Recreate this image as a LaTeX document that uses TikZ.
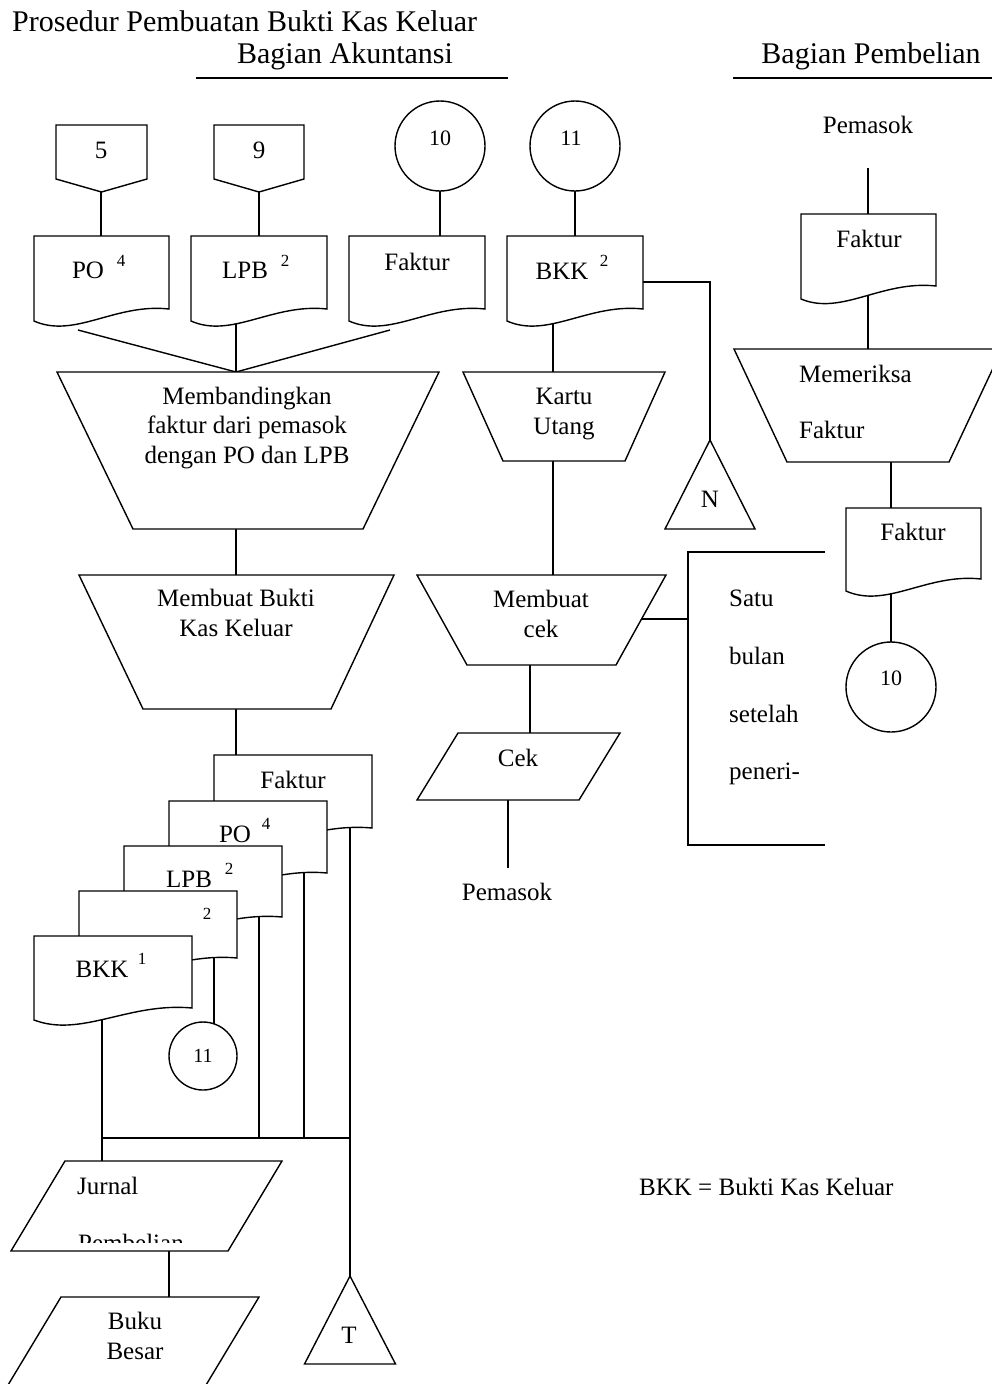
\documentclass[tikz,border=0pt]{standalone}
\usepackage{fontspec}
\setmainfont{Liberation Serif}
\tikzset{
  shp/.style={draw=black, fill=white, line width=1.4pt, line join=miter},
  ln/.style={draw=black, line width=1.4pt},
  tx/.style={inner sep=0pt, anchor=base, font=\fontsize{25}{30}\selectfont},
  txl/.style={tx, anchor=base west},
  hd/.style={inner sep=0pt, anchor=base, font=\fontsize{30}{36}\selectfont},
  sml/.style={inner sep=0pt, anchor=base, font=\fontsize{17}{20}\selectfont},
  num/.style={inner sep=0pt, anchor=base, font=\fontsize{22}{26}\selectfont},
  crc/.style={shp, circle, inner sep=0pt, minimum size=#1},
}
% document shape: x y w h offset
\newcommand{\docshape}[5]{%
  \draw[shp] (#1,#2) -- ({#1+#3},#2) -- ({#1+#3},{#2+#4})
    .. controls ({#1+0.6*#3},{#2+#4-6}) and ({#1+0.3*#3},{#2+#4+30}) ..
    (#1,{#2+#4+#5}) -- cycle;}
% trapezoid / parallelogram: topY botY tl tr bl br
\newcommand{\quadshape}[6]{%
  \draw[shp] (#3,#1) -- (#4,#1) -- (#6,#2) -- (#5,#2) -- cycle;}
% off-page connector: left right top sidebottom tip
\newcommand{\offpage}[5]{%
  \draw[shp] (#1,#3) -- (#2,#3) -- (#2,#4) -- ({(#1+#2)/2},#5) -- (#1,#4) -- cycle;}
% triangle: apexx apexy basey halfwidth
\newcommand{\tri}[4]{%
  \draw[shp] (#1,#2) -- ({#1+#4},#3) -- ({#1-#4},#3) -- cycle;}
\begin{document}
\begin{tikzpicture}[x=1pt,y=-1pt]
\useasboundingbox[fill=white] (0,0) rectangle (992,1384);

% ---------- headers ----------
\node[hd, anchor=base west] (title) at (12,31) {Prosedur Pembuatan Bukti Kas Keluar};
\node[hd] (hAk) at (345,63) {Bagian Akuntansi};
\node[hd] (hPb) at (871,63) {Bagian Pembelian};
\coordinate (ulA1) at (196,78); \coordinate (ulA2) at (508,78);
\coordinate (ulP1) at (733,78); \coordinate (ulP2) at (992,78);
\draw[ln] (ulA1) -- (ulA2);
\draw[ln] (ulP1) -- (ulP2);

% ---------- coordinates ----------
\coordinate (p5) at (101,185);   \coordinate (poT) at (101,250);
\coordinate (p9) at (259,185);   \coordinate (lpbT) at (259,250);
\coordinate (c10) at (440,146);  \coordinate (fkT) at (440,250);
\coordinate (c11) at (575,146);  \coordinate (bkkT) at (575,250);
\coordinate (poB) at (78,330);   \coordinate (lpbB) at (236,320);
\coordinate (fkB) at (390,330);  \coordinate (mbT) at (236,372);
\coordinate (mbB) at (236,520);  \coordinate (mkT) at (236,590);
\coordinate (mkB) at (236,700);  \coordinate (sfT) at (236,770);
\coordinate (bkkB) at (553,320); \coordinate (kuT) at (553,380);
\coordinate (bkkR) at (600,282); \coordinate (nCor) at (710,282);
\coordinate (nA) at (710,450);
\coordinate (kuB) at (553,455);  \coordinate (ckT) at (553,590);
\coordinate (ckM) at (541,619);  \coordinate (boxL) at (688,619);
\coordinate (ckB) at (530,655);  \coordinate (cpT) at (530,745);
\coordinate (cpB) at (508,790);  \coordinate (pemB) at (508,868);
\coordinate (pemR) at (868,168); \coordinate (rf1T) at (868,230);
\coordinate (rf1B) at (868,290); \coordinate (mrT) at (868,360);
\coordinate (mrB) at (891,455);  \coordinate (rf2T) at (891,520);
\coordinate (rf2B) at (891,585); \coordinate (c10b) at (891,687);
% stacked
\coordinate (sfB) at (350,790);  \coordinate (spB) at (304,830);
\coordinate (slB) at (259,880);  \coordinate (sxB) at (214,930);
\coordinate (sbB) at (102,1000);
\coordinate (c11b) at (203,1056); \coordinate (c11e) at (214,1045);
\coordinate (h1) at (102,1138);  \coordinate (h2) at (259,1138);
\coordinate (h3) at (304,1138);  \coordinate (h4) at (350,1138);
\coordinate (jT) at (102,1170);  \coordinate (tA) at (350,1285);
\coordinate (jB) at (169,1245);  \coordinate (bbT) at (169,1305);

% ---------- connectors (drawn behind shapes) ----------
\draw[ln] (p5) -- (poT);
\draw[ln] (p9) -- (lpbT);
\draw[ln] (c10) -- (fkT);
\draw[ln] (c11) -- (bkkT);
\draw[ln] (poB) -- (mbT);
\draw[ln] (lpbB) -- (mbT);
\draw[ln] (fkB) -- (mbT);
\draw[ln] (mbB) -- (mkT);
\draw[ln] (mkB) -- (sfT);
\draw[ln] (bkkB) -- (kuT);
\draw[ln] (bkkR) -- (nCor) -- (nA);
\draw[ln] (kuB) -- (ckT);
\draw[ln] (ckM) -- (boxL);
\draw[ln] (ckB) -- (cpT);
\draw[ln] (cpB) -- (pemB);
\draw[ln] (pemR) -- (rf1T);
\draw[ln] (rf1B) -- (mrT);
\draw[ln] (mrB) -- (rf2T);
\draw[ln] (rf2B) -- (c10b);
\draw[ln] (sfB) -- (h4) -- (tA);
\draw[ln] (spB) -- (h3);
\draw[ln] (slB) -- (h2);
\draw[ln] (sxB) -- (c11e);
\draw[ln] (sbB) -- (h1) -- (jT);
\draw[ln] (h1) -- (h4);
\draw[ln] (jB) -- (bbT);

% ---------- top row ----------
\offpage{56}{147}{125}{179}{192}
\node[tx] (t5) at (101,158) {5};
\offpage{214}{304}{125}{179}{192}
\node[tx] (t9) at (259,158) {9};
\node[crc=90pt] (C10) at (c10) {};
\node[num] (t10) at (440,145) {10};
\node[crc=90pt] (C11) at (c11) {};
\node[num] (t11) at (571,145) {11};

\docshape{34}{236}{135}{73}{12}
\node[tx] (tPO) at (88,278) {PO};
\node[sml] (tPO4) at (121,266) {4};
\docshape{191}{236}{136}{73}{12}
\node[tx] (tLPB) at (245,278) {LPB};
\node[sml] (tLPB2) at (285,266) {2};
\docshape{349}{236}{136}{73}{12}
\node[tx] (tFk) at (417,270) {Faktur};
\docshape{507}{236}{136}{73}{12}
\node[tx] (tBKK) at (562,279) {BKK};
\node[sml] (tBKK2) at (604,266) {2};

% ---------- process shapes ----------
\quadshape{372}{529}{57}{439}{133}{363}
\node[tx, align=center, font=\fontsize{25}{29.5}\selectfont] (tMb) at (247,463)
  {Membandingkan\\faktur dari pemasok\\dengan PO dan LPB};
\quadshape{575}{709}{79}{394}{143}{331}
\node[tx, align=center, font=\fontsize{25}{29.5}\selectfont] (tMk) at (236,636)
  {Membuat Bukti\\Kas Keluar};

\quadshape{372}{461}{463}{665}{503}{625}
\node[tx, align=center, font=\fontsize{25}{30}\selectfont] (tKu) at (564,434)
  {Kartu\\Utang};
\tri{710}{440}{529}{45}
\node[tx] (tN) at (710,507) {N};

\quadshape{575}{665}{417}{666}{467}{616}
\node[tx, align=center, font=\fontsize{25}{30}\selectfont] (tMc) at (541,637)
  {Membuat\\cek};
\quadshape{733}{800}{458}{620}{417}{579}
\node[tx] (tCek) at (518,766) {Cek};
\node[tx] (tPem2) at (507,900) {Pemasok};

% Satu bulan box
\coordinate (bx1) at (825,552); \coordinate (bx2) at (688,552);
\coordinate (bx3) at (688,845); \coordinate (bx4) at (825,845);
\draw[ln] (bx1) -- (bx2) -- (bx3) -- (bx4);
\node[txl] (tSatu) at (729,606) {Satu};
\node[txl] (tBulan) at (729,664) {bulan};
\node[txl] (tSetelah) at (729,722) {setelah};
\node[txl] (tPeneri) at (729,779) {peneri-};

% ---------- right column ----------
\node[tx] (tPem1) at (868,133) {Pemasok};
\docshape{801}{214}{135}{72}{13}
\node[tx] (tRf1) at (869,247) {Faktur};
\quadshape{349}{462}{734}{1002}{787}{949}
\node[txl] (tMr1) at (799,382) {Memeriksa};
\node[txl] (tMr2) at (799,438) {Faktur};
\docshape{846}{508}{135}{71}{12}
\node[tx] (tRf2) at (913,540) {Faktur};
\node[crc=90pt] (C10b) at (c10b) {};
\node[num] (t10b) at (891,685) {10};

% ---------- stacked documents ----------
\docshape{214}{755}{158}{73}{12}
\node[tx] (tsF) at (293,788) {Faktur};
\docshape{169}{801}{158}{72}{12}
\node[tx] (tsPO) at (235,842) {PO};
\node[sml] (tsPO4) at (266,829) {4};
\docshape{124}{846}{158}{71}{12}
\node[tx] (tsL) at (189,887) {LPB};
\node[sml] (tsL2) at (229,874) {2};
\docshape{79}{891}{158}{67}{12}
\node[sml] (tsX2) at (207,919) {2};
\docshape{34}{936}{158}{72}{12}
\node[tx] (tsB) at (102,977) {BKK};
\node[sml] (tsB1) at (142,964) {1};

\node[crc=68pt] (C11b) at (c11b) {};
\node[inner sep=0pt, anchor=base, font=\fontsize{20}{24}\selectfont] (t11b) at (203,1062) {11};

% ---------- journals ----------
\quadshape{1161}{1251}{65}{282}{11}{228}
\node[txl] (tJ1) at (77,1194) {Jurnal};
\begin{scope}
  \clip (0,1150) rectangle (992,1242);
  \node[txl] (tJ2) at (78,1251) {Pembelian};
\end{scope}
\quadshape{1297}{1400}{61}{259}{-1}{197}
\node[tx, align=center, font=\fontsize{25}{30}\selectfont] (tBB) at (135,1359)
  {Buku\\Besar};
\tri{350}{1276}{1364}{45.5}
\node[tx] (tT) at (349,1343) {T};

\node[txl] (tLeg) at (639,1195) {BKK = Bukti Kas Keluar};
\end{tikzpicture}
\end{document}
